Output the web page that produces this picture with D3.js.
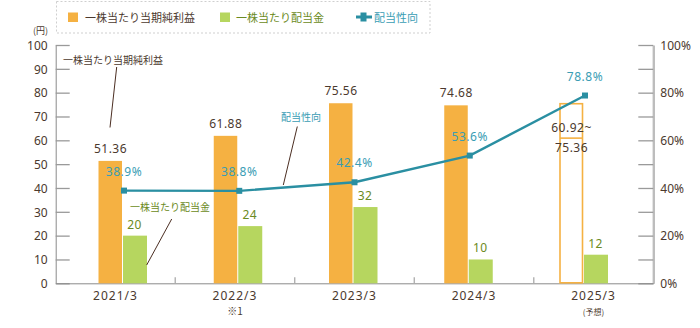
<!DOCTYPE html>
<html>
<head>
<meta charset="utf-8">
<script src="https://cdn.jsdelivr.net/npm/d3@7"></script>
<style>
  body { margin: 0; background: #fff; }
  svg text { font-family: "Noto Sans", "Noto Sans CJK JP", sans-serif; }
  .jp { font-family: "Noto Sans CJK JP", sans-serif; }
</style>
</head>
<body>
<div id="chart"></div>
<script>
// 決算期ごとの1株当たり指標
var categories = ["2021/3", "2022/3", "2023/3", "2024/3", "2025/3"];
var subLabels = ["", "※1", "", "", "(予想)"];
var epsValues = [51.36, 61.88, 75.56, 74.68, 75.36];
var epsForecastLow = 60.92;
var dividendValues = [20, 24, 32, 10, 12];
var payoutRatio = [38.9, 38.8, 42.4, 53.6, 78.8];
var leftTicks = [0, 10, 20, 30, 40, 50, 60, 70, 80, 90, 100];
var rightTicks = [0, 10, 20, 30, 40, 50, 60, 70, 80, 90, 100];

var outwidth = 700, outheight = 328;
var plot = { left: 55.7, right: 653.3, top: 45, bottom: 283.3 };
var barWidth = 24;

var cOrange = "#f5b142",
    cGreen = "#b6d65f",
    cTeal = "#2a8fa2",
    cTealText = "#3a9db4",
    cBrown = "#4b392e",
    cGreenText = "#6b8a22";

var svg = d3.select("#chart")
    .append("svg")
    .attr("width", outwidth)
    .attr("height", outheight);

var y = d3.scaleLinear().domain([0, 100]).range([plot.bottom, plot.top]);
var yr = d3.scaleLinear().domain([0, 100]).range([plot.bottom, plot.top]);
var xBand = d3.scaleBand().domain(categories).range([plot.left, plot.right]);
// 棒の組の中心（左：純利益、右：配当金）
var xBar = d3.scalePoint().domain(categories).range([122.5, 583.5]);

// 凡例
var legend = svg.append("g").attr("class", "legend");
legend.append("rect")
    .attr("x", 56.5).attr("y", 1.5)
    .attr("width", 373.5).attr("height", 31.5)
    .attr("fill", "none")
    .attr("stroke", "#cfcfcf")
    .attr("stroke-dasharray", "2,2");
legend.append("rect").attr("x", 68).attr("y", 12.5).attr("width", 10).attr("height", 9.5).attr("fill", cOrange);
legend.append("text").attr("class", "jp").attr("x", 85).attr("y", 21.5)
    .attr("font-size", 11).attr("fill", cBrown).text("一株当たり当期純利益");
legend.append("rect").attr("x", 220).attr("y", 12.5).attr("width", 10).attr("height", 9.5).attr("fill", cGreen);
legend.append("text").attr("class", "jp").attr("x", 236).attr("y", 21.5)
    .attr("font-size", 11).attr("fill", cGreenText).text("一株当たり配当金");
legend.append("line").attr("x1", 356).attr("x2", 372).attr("y1", 17).attr("y2", 17)
    .attr("stroke", cTeal).attr("stroke-width", 3);
legend.append("rect").attr("x", 360.5).attr("y", 12.5).attr("width", 6).attr("height", 9).attr("fill", cTeal);
legend.append("text").attr("class", "jp").attr("x", 374).attr("y", 21.5)
    .attr("font-size", 11).attr("fill", cTealText).text("配当性向");

svg.append("text").attr("class", "jp")
    .attr("x", 33).attr("y", 34)
    .attr("font-size", 9).attr("fill", cBrown).text("(円)");

// 左軸（円）
var gLeft = svg.append("g")
    .attr("transform", `translate(${plot.left},0)`)
    .call(d3.axisLeft(y).tickValues(leftTicks).tickSizeInner(-14).tickSizeOuter(0).tickPadding(8));
gLeft.select(".domain").attr("stroke", "#8a8a8a");
gLeft.selectAll(".tick line").attr("stroke", "#9a9a9a").attr("stroke-width", 1.3);
gLeft.selectAll(".tick text")
    .attr("font-size", 12).attr("fill", cBrown).attr("dy", "0.36em");

// 右軸（％）
var gRight = svg.append("g")
    .attr("transform", `translate(${plot.right},0)`)
    .call(d3.axisRight(yr).tickValues(rightTicks).tickSizeInner(-15).tickSizeOuter(0).tickPadding(7)
        .tickFormat(d => d % 20 === 0 ? d + "%" : ""));
gRight.select(".domain").attr("stroke", "#bdbdbd").attr("stroke-width", 2.4);
gRight.selectAll(".tick line").attr("stroke", "#9a9a9a").attr("stroke-width", 1.3);
gRight.selectAll(".tick text")
    .attr("font-size", 12).attr("fill", cBrown).attr("dy", "0.36em");

// 下軸
var gBottom = svg.append("g")
    .attr("transform", `translate(0,${plot.bottom})`)
    .call(d3.axisBottom(xBand).tickSize(0).tickPadding(8));
gBottom.select(".domain").attr("stroke", "#8a8a8a");
gBottom.selectAll(".tick text")
    .attr("font-size", 12).attr("fill", cBrown).attr("letter-spacing", 1);
gBottom.selectAll(".sub-label")
    .data(categories)
    .join("text")
    .attr("class", "sub-label jp")
    .attr("x", d => xBand(d) + xBand.bandwidth() / 2)
    .attr("y", 32)
    .attr("text-anchor", "middle")
    .attr("font-size", (d, i) => i === 4 ? 8 : 10)
    .attr("fill", cBrown)
    .text((d, i) => subLabels[i]);
svg.selectAll(".sep")
    .data(categories.slice(1))
    .join("line")
    .attr("class", "sep")
    .attr("x1", d => xBand(d)).attr("x2", d => xBand(d))
    .attr("y1", plot.bottom - 6).attr("y2", plot.bottom)
    .attr("stroke", "#aaaaaa").attr("stroke-width", 1.3);

// 当期純利益（実績）
var actual = categories.slice(0, 4);
svg.selectAll(".eps-bar")
    .data(actual)
    .join("rect")
    .attr("class", "eps-bar")
    .attr("x", d => xBar(d) - barWidth)
    .attr("y", (d, i) => y(epsValues[i]))
    .attr("width", barWidth - 0.5)
    .attr("height", (d, i) => y(0) - y(epsValues[i]))
    .attr("fill", cOrange);

// 当期純利益（予想レンジ）
var fc = categories[4];
svg.append("rect")
    .attr("x", xBar(fc) - barWidth + 0.5)
    .attr("y", y(epsValues[4]))
    .attr("width", barWidth - 1.5)
    .attr("height", y(0) - y(epsValues[4]) - 0.5)
    .attr("fill", "none")
    .attr("stroke", cOrange)
    .attr("stroke-width", 1.6);
svg.append("line")
    .attr("x1", xBar(fc) - barWidth + 0.5).attr("x2", xBar(fc) - 1)
    .attr("y1", y(epsForecastLow)).attr("y2", y(epsForecastLow))
    .attr("stroke", cOrange).attr("stroke-width", 1.6);

// 配当金
svg.selectAll(".div-bar")
    .data(categories)
    .join("rect")
    .attr("class", "div-bar")
    .attr("x", d => xBar(d) + 0.5)
    .attr("y", (d, i) => y(dividendValues[i]))
    .attr("width", barWidth)
    .attr("height", (d, i) => y(0) - y(dividendValues[i]))
    .attr("fill", cGreen);

// 数値ラベル
svg.selectAll(".eps-val")
    .data(actual)
    .join("text")
    .attr("class", "eps-val")
    .attr("x", d => xBar(d) - barWidth / 2)
    .attr("y", (d, i) => y(epsValues[i]) - 8)
    .attr("text-anchor", "middle")
    .attr("font-size", 12).attr("letter-spacing", 0.5)
    .attr("fill", cBrown)
    .text((d, i) => epsValues[i].toFixed(2));
svg.append("text")
    .attr("x", xBar(fc) - barWidth / 2)
    .attr("y", y(epsForecastLow) - 6)
    .attr("text-anchor", "middle")
    .attr("font-size", 12).attr("letter-spacing", 0.5)
    .attr("fill", cBrown)
    .text(epsForecastLow.toFixed(2) + "~");
svg.append("text")
    .attr("x", xBar(fc) - barWidth / 2)
    .attr("y", y(epsForecastLow) + 14)
    .attr("text-anchor", "middle")
    .attr("font-size", 12).attr("letter-spacing", 0.5)
    .attr("fill", cBrown)
    .text(epsValues[4].toFixed(2));
svg.selectAll(".div-val")
    .data(categories)
    .join("text")
    .attr("class", "div-val")
    .attr("x", d => xBar(d) + barWidth / 2)
    .attr("y", (d, i) => y(dividendValues[i]) - 7)
    .attr("text-anchor", "middle")
    .attr("font-size", 12).attr("letter-spacing", 0.5)
    .attr("fill", cGreenText)
    .text((d, i) => dividendValues[i]);

// 配当性向の折れ線
var pts = categories.map((c, i) => [xBar(c) + 1.5, yr(payoutRatio[i])]);
svg.append("path")
    .datum(pts)
    .attr("d", d3.line())
    .attr("fill", "none")
    .attr("stroke", cTeal)
    .attr("stroke-width", 2.4);
svg.selectAll(".ratio-pt")
    .data(pts)
    .join("rect")
    .attr("class", "ratio-pt")
    .attr("x", d => d[0] - 3)
    .attr("y", d => d[1] - 3)
    .attr("width", 6).attr("height", 6)
    .attr("fill", cTeal);
svg.selectAll(".ratio-val")
    .data(pts)
    .join("text")
    .attr("class", "ratio-val")
    .attr("x", d => d[0])
    .attr("y", d => d[1] - 15)
    .attr("text-anchor", "middle")
    .attr("font-size", 12).attr("letter-spacing", 0.5)
    .attr("fill", cTealText)
    .text((d, i) => payoutRatio[i].toFixed(1) + "%");

// 引き出し線の注記
var notes = [
    { text: "一株当たり当期純利益", x: 63, y: 63.5, color: cBrown, line: [[116.7, 67], [110, 127.5]] },
    { text: "一株当たり配当金", x: 130, y: 211, color: cGreenText, line: [[171.7, 219], [146.7, 265]] },
    { text: "配当性向", x: 281, y: 121, color: cTealText, line: [[297.3, 126.5], [283.3, 185]] }
];
notes.forEach(function (n) {
    svg.append("text").attr("class", "jp")
        .attr("x", n.x).attr("y", n.y)
        .attr("font-size", 10).attr("fill", n.color)
        .text(n.text);
    svg.append("line")
        .attr("x1", n.line[0][0]).attr("y1", n.line[0][1])
        .attr("x2", n.line[1][0]).attr("y2", n.line[1][1])
        .attr("stroke", "#4b2e22").attr("stroke-width", 1);
});
</script>
</body>
</html>
